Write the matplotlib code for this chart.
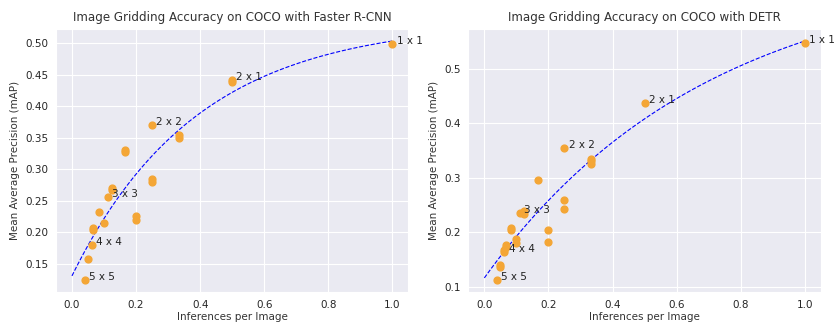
import numpy as np
import matplotlib
matplotlib.use("Agg")
import matplotlib.pyplot as plt
import seaborn as sns

sns.set_style("darkgrid")

# inferences per image (1 / number of grid cells) and mAP
frcnn_x = [1.0, 0.5, 0.5, 0.25, 0.3333, 0.3333, 0.1667, 0.1667, 0.25, 0.25,
           0.125, 0.125, 0.1111, 0.0833, 0.2, 0.2, 0.1, 0.0667, 0.0667,
           0.0625, 0.05, 0.04]
frcnn_y = [0.499, 0.441, 0.438, 0.370, 0.354, 0.350, 0.330, 0.327, 0.284, 0.279,
           0.270, 0.267, 0.255, 0.232, 0.225, 0.220, 0.214, 0.206, 0.204,
           0.179, 0.158, 0.124]

detr_x = [1.0, 0.5, 0.25, 0.3333, 0.3333, 0.3333, 0.1667, 0.25, 0.25,
          0.1111, 0.125, 0.125, 0.0833, 0.0833, 0.2, 0.2, 0.1, 0.1,
          0.0667, 0.0667, 0.0625, 0.0625, 0.05, 0.05, 0.04]
detr_y = [0.547, 0.437, 0.355, 0.334, 0.330, 0.326, 0.295, 0.259, 0.243,
          0.236, 0.238, 0.234, 0.207, 0.204, 0.2035, 0.1815, 0.188, 0.180,
          0.176, 0.172, 0.167, 0.163, 0.139, 0.136, 0.112]

labels = ["1 x 1", "2 x 1", "2 x 2", "3 x 3", "4 x 4", "5 x 5"]
frcnn_label_idx = [0, 1, 3, 12, 19, 21]
detr_label_idx = [0, 1, 2, 9, 21, 24]

titles = ["Image Gridding Accuracy on COCO with Faster R-CNN",
          "Image Gridding Accuracy on COCO with DETR"]


def fit_curve(x, y):
    # y = a - b * exp(-k x), search over k, least squares for a, b
    x = np.asarray(x)
    y = np.asarray(y)
    best = None
    for k in np.linspace(0.5, 10, 400):
        M = np.column_stack([np.ones_like(x), -np.exp(-k * x)])
        coef, res, _, _ = np.linalg.lstsq(M, y, rcond=None)
        err = np.sum((M @ coef - y) ** 2)
        if best is None or err < best[0]:
            best = (err, coef[0], coef[1], k)
    return best[1:]


fig, axes = plt.subplots(1, 2, figsize=(8.35, 3.23), dpi=100)
fig.subplots_adjust(left=0.067, right=0.983, bottom=0.096, top=0.91, wspace=0.17)
data = [(frcnn_x, frcnn_y, frcnn_label_idx), (detr_x, detr_y, detr_label_idx)]

for ax, (xs, ys, idx), title in zip(axes, data, titles):
    a, b, k = fit_curve(xs, ys)
    xx = np.linspace(0, 1, 100)
    ax.plot(xx, a - b * np.exp(-k * xx), "b--", lw=0.8)
    ax.scatter(xs, ys, color="#f4a636", s=24, zorder=3)
    for lab, i in zip(labels, idx):
        ax.annotate(lab, (xs[i], ys[i]), xytext=(3, 0), textcoords="offset points",
                    fontsize=7.5, color="#222222")
    ax.set_title(title, fontsize=8.6, color="#333333")
    ax.set_xlabel("Inferences per Image", fontsize=7.5, labelpad=2, color="#333333")
    ax.set_ylabel("Mean Average Precision (mAP)", fontsize=7.5, labelpad=4, color="#333333")
    ax.tick_params(labelsize=7.5, pad=2)

fig.savefig("out.png")
